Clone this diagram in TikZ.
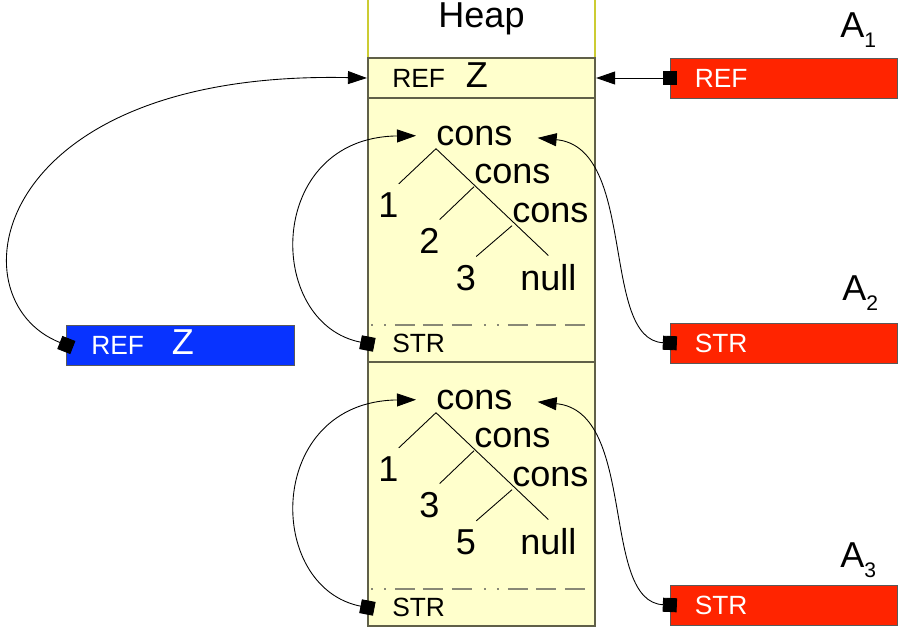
\documentclass[tikz,border=0pt]{standalone}
\usepackage{fontspec}
\setmainfont{Liberation Sans}
\usepackage{tikz}
\usetikzlibrary{arrows.meta}

\definecolor{heapFill}{RGB}{255,255,204}
\definecolor{heapLine}{RGB}{96,96,72}
\definecolor{heapEdge}{RGB}{204,204,51}
\definecolor{argRed}{RGB}{255,36,0}
\definecolor{varBlue}{RGB}{8,51,255}

\newcommand\bigFont{\fontsize{20.5}{24}\selectfont}
\newcommand\smallFont{\fontsize{15}{18}\selectfont}
\newcommand\blockH{264}
\newcommand{\argName}[1]{A\raisebox{-0.2cm}{\fontsize{12}{12}\selectfont #1}}
% one heap block: a list of three cons cells and its STR cell
% #1 = y offset, #2 = name suffix, #3-#5 = list elements
\newcommand{\consList}[5]{
    \begin{scope}[shift={(0,#1)}]
        \draw[heapCell] (368,98) rectangle (595,362);
        \draw[heapSep] (371,325) -- (587,325);
        \node[cellBox] (str#2) at (481.5,343.5) {STR};
        \node[consText] (consA#2) at (436,145) {cons};
        \node[consText] (consB#2) at (474,183) {cons};
        \node[consText] (consC#2) at (512,222) {cons};
        \node[leafText] (elA#2) at (378,217) {#3};
        \node[leafText] (elB#2) at (419,253) {#4};
        \node[leafText] (elC#2) at (455.5,290) {#5};
        \node[leafText] (nil#2) at (520,290) {null};
        \draw[treeLine] (consA#2.south west) -- (nil#2.north);
        \draw[treeLine] (consA#2.south west) -- (elA#2.north east);
        \draw[treeLine] (consB#2.south west) -- (elB#2.north east);
        \draw[treeLine] (consC#2.south west) -- (elC#2.north east);
    \end{scope}
}

\begin{document}
\begin{tikzpicture}[x=0.02cm, y=-0.02cm,
    cellBox/.style={minimum height=0.8cm, text width=3.57cm, inner xsep=0.49cm, inner ysep=0pt,
        align=left, text height=0.5cm, text depth=0.14cm, font=\smallFont},
    argBox/.style={cellBox, draw=black!65, fill=argRed, text=white, line width=0.5pt},
    varBox/.style={cellBox, draw=black!65, fill=varBlue, text=white, line width=0.5pt},
    heapCell/.style={draw=heapLine, fill=heapFill, line width=1pt},
    heapSep/.style={draw=heapLine!75, line width=0.85pt,
        dash pattern=on 0.04cm off 0.22cm on 0.04cm off 0.18cm on 0.4cm off 0.16cm on 0.4cm off 0.18cm on 0.4cm off 0.24cm},
    consText/.style={font=\bigFont, anchor=base west, inner xsep=0pt, inner ysep=0.06cm},
    leafText/.style={font=\bigFont, anchor=base west, inner xsep=0pt, inner ysep=0.16cm},
    treeLine/.style={line width=0.5pt},
    pin/.style={line width=0.5pt, {Square[length=0.28cm,width=0.28cm]}-{Triangle[length=0.38cm,width=0.26cm]},
        shorten <=-0.14cm}]
    \useasboundingbox (0,0) rectangle (900,626);

    % heap
    \draw[heapEdge, line width=1pt] (368,0) -- (368,58) (595,0) -- (595,58);
    \node[font=\bigFont, anchor=base] (heap) at (481.5,27) {Heap};
    \node[cellBox, heapCell] (refcell) at (481.5,78) {REF\hspace{0.42cm}{\bigFont Z}};
    \consList{0}{a}{1}{2}{3}
    \consList{\blockH}{b}{1}{3}{5}

    % argument registers and the variable
    \node[argBox] (argOne) at (784,78) {REF};
    \node[argBox] (argTwo) at (784,343) {STR};
    \node[argBox] (argThree) at (784,605) {STR};
    \node[varBox] (varZ) at (180.5,345) {REF\hspace{0.56cm}{\bigFont Z}};
    \node[font=\bigFont, anchor=base west, inner sep=0pt] (nameOne) at (840,37) {\argName{1}};
    \node[font=\bigFont, anchor=base west, inner sep=0pt] (nameTwo) at (842,300) {\argName{2}};
    \node[font=\bigFont, anchor=base west, inner sep=0pt] (nameThree) at (840,567) {\argName{3}};

    \draw[pin] (argOne.west) -- (refcell.east);
    \draw[pin] (varZ.west) .. controls +(-115,-45) and +(-378,-8) .. (refcell.west);
    \draw[pin, shorten >=0.4cm] (stra.west) .. controls +(-103,-20) and +(-171,2) .. (consAa.west);
    \draw[pin, shorten >=0.5cm] (argTwo.west) .. controls +(-70,-3) and +(125,12) .. (consAa.east);
    \draw[pin, shorten >=0.4cm] (strb.west) .. controls +(-103,-20) and +(-171,2) .. (consAb.west);
    \draw[pin, shorten >=0.5cm] (argThree.west) .. controls +(-70,-3) and +(125,12) .. (consAb.east);
\end{tikzpicture}
\end{document}
